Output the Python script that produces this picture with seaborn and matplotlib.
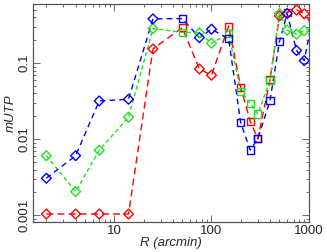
import matplotlib
matplotlib.use('Agg')
import matplotlib.pyplot as plt
import matplotlib.ticker as mticker
import seaborn as sns

# radius bins (arcmin); the last one sits past the axis and is clipped
radius = [2, 4, 7, 14, 25, 50, 75, 100, 150, 200, 250, 300, 400, 500, 600, 750, 900, 1200]

mutp_red = [0.00104, 0.00104, 0.00104, 0.00104, 0.154, 0.294, 0.084, 0.0695, 0.307,
            0.0483, 0.0173, 0.0101, 0.0612, 0.419, 0.47, 0.502, 0.446, 0.27]
mutp_green = [0.00608, 0.00205, 0.00716, 0.0195, 0.285, 0.256, 0.251, 0.183, 0.245,
              0.0426, 0.0298, 0.0215, 0.0594, 0.45, 0.272, 0.241, 0.268, 0.25]
mutp_blue = [0.00307, 0.00608, 0.0319, 0.0336, 0.383, 0.386, 0.217, 0.28, 0.209,
             0.0164, 0.00723, 0.0102, 0.0322, 0.192, 0.45, 0.147, 0.108, 0.72]

# symbol per point: D = diamond, s = square
sym_red = ['D', 'D', 'D', 'D', 'D', 's', 'D', 'D', 's', 's', 's', 's', 's', 'D', 's', 'D', 'D', 'D']
sym_green = ['D', 'D', 'D', 'D', 'D', 's', 'D', 'D', 's', 's', 's', 's', 's', 'D', 'D', 'D', 'D', 'D']
sym_blue = ['D', 'D', 'D', 'D', 'D', 's', 'D', 'D', 's', 's', 's', 's', 's', 's', 'D', 'D', 'D', 'D']

sns.set_style('ticks')
plt.rcParams['font.family'] = ['Liberation Sans', 'DejaVu Sans']

fig = plt.figure(figsize=(3.27, 2.52), dpi=100)
ax = fig.add_axes([0.102, 0.118, 0.842, 0.866])

series = [(mutp_red, sym_red, '#ff0000', (5, 3)),
          (mutp_green, sym_green, '#22e022', (3, 2)),
          (mutp_blue, sym_blue, '#0000ff', (4, 3))]

for vals, syms, col, dash in series:
    sns.lineplot(x=radius, y=vals, color=col, lw=1, estimator=None, sort=False,
                 dashes=False, ax=ax).lines[-1].set_dashes(dash)
    for m in ['D', 's']:
        xs = [r for r, s in zip(radius, syms) if s == m]
        ys = [v for v, s in zip(vals, syms) if s == m]
        sns.scatterplot(x=xs, y=ys, marker=m, s=25 if m == 'D' else 26,
                        color=col, facecolor='none', edgecolor=col, linewidth=1,
                        ax=ax, zorder=3)

ax.set_xscale('log')
ax.set_yscale('log')
ax.set_xlim(1.47, 1000)
ax.set_ylim(0.00081, 0.6)

ax.xaxis.set_major_locator(mticker.FixedLocator([10, 100, 1000]))
ax.xaxis.set_major_formatter(mticker.FixedFormatter(['10', '100', '1000']))
ax.xaxis.set_minor_locator(mticker.LogLocator(base=10, subs=range(2, 10)))
ax.xaxis.set_minor_formatter(mticker.NullFormatter())
ax.yaxis.set_major_locator(mticker.FixedLocator([0.001, 0.01, 0.1]))
ax.yaxis.set_major_formatter(mticker.FixedFormatter(['0.001', '0.01', '0.1']))
ax.yaxis.set_minor_locator(mticker.LogLocator(base=10, subs=range(2, 10)))
ax.yaxis.set_minor_formatter(mticker.NullFormatter())

ax.tick_params(which='both', direction='in', top=True, right=True, color='#555555',
               labelsize=9.5, width=0.6)
ax.tick_params(which='major', length=5, pad=2)
ax.tick_params(which='minor', length=2.5)
for lab in ax.get_yticklabels():
    lab.set_rotation(90)
    lab.set_va('center')

for sp in ax.spines.values():
    sp.set_color('#555555')
    sp.set_linewidth(0.9)

ax.set_xlabel('R (arcmin)', fontsize=9.5, style='italic', labelpad=0)
ax.set_ylabel('mUTP', fontsize=9.5, style='italic', labelpad=1)

fig.savefig('out.png', dpi=100)
